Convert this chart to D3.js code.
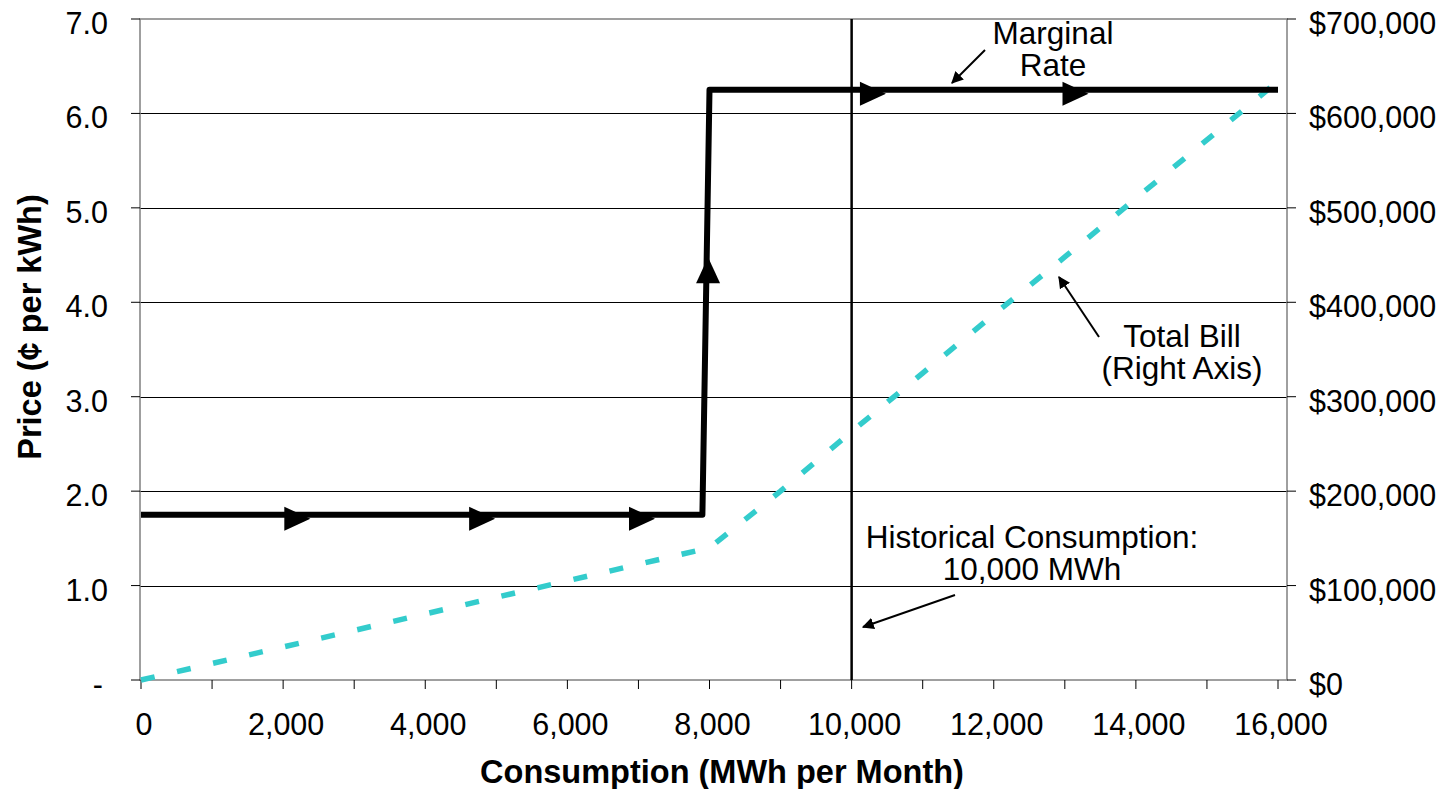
<!DOCTYPE html>
<html lang="en">
<head>
<meta charset="UTF-8">
<title>Marginal rate and total bill</title>
<script src="https://d3js.org/d3.v7.min.js"></script>
<style>
    body { margin: 0; background: #fff; }
    svg text { font-family: "Liberation Sans", Arial, sans-serif; fill: #000; }
    .tick-label { font-size: 30.5px; }
    .axis-title { font-size: 32.5px; font-weight: bold; }
    .note { font-size: 31.5px; }
</style>
</head>
<body>
<script>
// data
var consumption = [0, 1000, 2000, 3000, 4000, 5000, 6000, 7000, 8000,
                   9000, 10000, 11000, 12000, 13000, 14000, 15000, 16000];
var totalBill = [0, 17500, 35000, 52500, 70000, 87500, 105000, 122500, 140000,
                 200000, 263000, 325000, 387000, 448000, 510000, 572000, 634000];

var rateX = [0, 7900, 8000, 16000];
var rateY = [1.75, 1.75, 6.25, 6.25];

// direction arrows drawn on the marginal-rate line
var arrowX = [2200, 4800, 7050, 10300, 13150, 7980];
var arrowY = [1.75, 1.75, 1.75, 6.25, 6.25, 4.34];
var arrowDir = ["right", "right", "right", "right", "right", "up"];

var historical = 10000;

var xTicks = [0, 2000, 4000, 6000, 8000, 10000, 12000, 14000, 16000];
var xMinor = d3.range(0, 16001, 1000);
var yTicks = [0, 1, 2, 3, 4, 5, 6, 7];
var yLabels = ["-", "1.0", "2.0", "3.0", "4.0", "5.0", "6.0", "7.0"];
var y2Ticks = [0, 100000, 200000, 300000, 400000, 500000, 600000, 700000];

var W = 1449, H = 789;
var pLeft = 140, pRight = 1287, pTop = 19, pBottom = 680;

var svg = d3.select("body").append("svg")
    .attr("width", W)
    .attr("height", H);

var x = d3.scaleLinear().domain([0, 16000]).range([141, 1278]);
var y = d3.scaleLinear().domain([0, 7]).range([pBottom, pTop]);
var y2 = d3.scaleLinear().domain([0, 700000]).range([pBottom, pTop]);

// gridlines
svg.append("g").selectAll("line")
    .data(yTicks.filter(function(d){ return d > 0 && d < 7; }))
    .enter().append("line")
    .attr("x1", pLeft).attr("x2", pRight)
    .attr("y1", function(d){ return Math.round(y(d)) + 0.5; })
    .attr("y2", function(d){ return Math.round(y(d)) + 0.5; })
    .attr("stroke", "#000")
    .attr("stroke-width", 1);

// frame
svg.append("rect")
    .attr("x", pLeft).attr("y", pTop)
    .attr("width", pRight - pLeft).attr("height", pBottom - pTop)
    .attr("fill", "none")
    .attr("stroke", "#808080")
    .attr("stroke-width", 1.5);

// left axis ticks + labels
var gl = svg.append("g");
gl.selectAll("line").data(yTicks).enter().append("line")
    .attr("x1", pLeft - 9).attr("x2", pLeft)
    .attr("y1", function(d){ return y(d); })
    .attr("y2", function(d){ return y(d); })
    .attr("stroke", "#000").attr("stroke-width", 1);
gl.selectAll("text").data(yTicks).enter().append("text")
    .attr("class", "tick-label")
    .attr("x", function(d){ return d === 0 ? 103 : 108; })
    .attr("y", function(d){ return y(d) + 15; })
    .attr("text-anchor", "end")
    .text(function(d, i){ return yLabels[i]; });

// right axis ticks + labels
var gr = svg.append("g");
gr.selectAll("line").data(y2Ticks).enter().append("line")
    .attr("x1", pRight).attr("x2", pRight + 9)
    .attr("y1", function(d){ return y2(d); })
    .attr("y2", function(d){ return y2(d); })
    .attr("stroke", "#000").attr("stroke-width", 1);
gr.selectAll("text").data(y2Ticks).enter().append("text")
    .attr("class", "tick-label")
    .attr("x", 1309)
    .attr("y", function(d){ return y2(d) + 15; })
    .text(function(d){ return d3.format("$,")(d); });

// bottom axis
var gb = svg.append("g");
gb.selectAll("line").data(xMinor).enter().append("line")
    .attr("x1", function(d){ return x(d); })
    .attr("x2", function(d){ return x(d); })
    .attr("y1", pBottom).attr("y2", pBottom + 9)
    .attr("stroke", "#000").attr("stroke-width", 1);
gb.selectAll("text").data(xTicks).enter().append("text")
    .attr("class", "tick-label")
    .attr("x", function(d){ return x(d) + 3; })
    .attr("y", 735)
    .attr("text-anchor", "middle")
    .text(function(d){ return d3.format(",")(d); });

// axis titles
svg.append("text")
    .attr("class", "axis-title")
    .attr("x", 722).attr("y", 783)
    .attr("text-anchor", "middle")
    .text("Consumption (MWh per Month)");

svg.append("text")
    .attr("class", "axis-title")
    .attr("transform", "translate(41,327) rotate(-90)")
    .attr("text-anchor", "middle")
    .text("Price (\u00a2 per kWh)");

// historical consumption line
svg.append("line")
    .attr("x1", x(historical)).attr("x2", x(historical))
    .attr("y1", pTop).attr("y2", pBottom)
    .attr("stroke", "#000")
    .attr("stroke-width", 2.5);

// total bill (right axis)
var billLine = d3.line()
    .x(function(d, i){ return x(consumption[i]); })
    .y(function(d){ return y2(d); });

svg.append("path")
    .datum(totalBill)
    .attr("d", billLine)
    .attr("fill", "none")
    .attr("stroke", "#33cccc")
    .attr("stroke-width", 5.5)
    .attr("stroke-dasharray", "14,23");

// marginal rate step line
var rateLine = d3.line()
    .x(function(d, i){ return x(rateX[i]); })
    .y(function(d){ return y(d); });

svg.append("path")
    .datum(rateY)
    .attr("d", rateLine)
    .attr("fill", "none")
    .attr("stroke", "#000")
    .attr("stroke-width", 6)
    .attr("stroke-linejoin", "round");

svg.append("g").selectAll("path")
    .data(arrowX).enter().append("path")
    .attr("d", "M13,0 L-13,-12 L-13,12 Z")
    .attr("fill", "#000")
    .attr("transform", function(d, i){
        var rot = arrowDir[i] === "up" ? -90 : 0;
        var dy = arrowDir[i] === "up" ? 0 : 4;
        return "translate(" + x(d) + "," + (y(arrowY[i]) + dy) + ") rotate(" + rot + ")";
    });

// annotations
var defs = svg.append("defs");
defs.append("marker")
    .attr("id", "head")
    .attr("viewBox", "0 0 10 10")
    .attr("refX", 9).attr("refY", 5)
    .attr("markerWidth", 6).attr("markerHeight", 6)
    .attr("orient", "auto")
    .append("path")
    .attr("d", "M0,0 L10,5 L0,10 Z")
    .attr("fill", "#000");

function note(lines, cx, baseline) {
    var t = svg.append("text")
        .attr("class", "note")
        .attr("text-anchor", "middle");
    lines.forEach(function(s, i){
        t.append("tspan")
            .attr("x", cx)
            .attr("y", baseline + i * 32)
            .text(s);
    });
}

function pointer(x1, y1, x2, y2) {
    svg.append("line")
        .attr("x1", x1).attr("y1", y1)
        .attr("x2", x2).attr("y2", y2)
        .attr("stroke", "#000")
        .attr("stroke-width", 2)
        .attr("marker-end", "url(#head)");
}

note(["Marginal", "Rate"], 1053, 44);
pointer(985, 50, 952, 83);

note(["Total Bill", "(Right Axis)"], 1182, 347);
pointer(1099, 337, 1059, 277);

note(["Historical Consumption:", "10,000 MWh"], 1032, 548);
pointer(955, 595, 863, 627);
</script>
</body>
</html>
